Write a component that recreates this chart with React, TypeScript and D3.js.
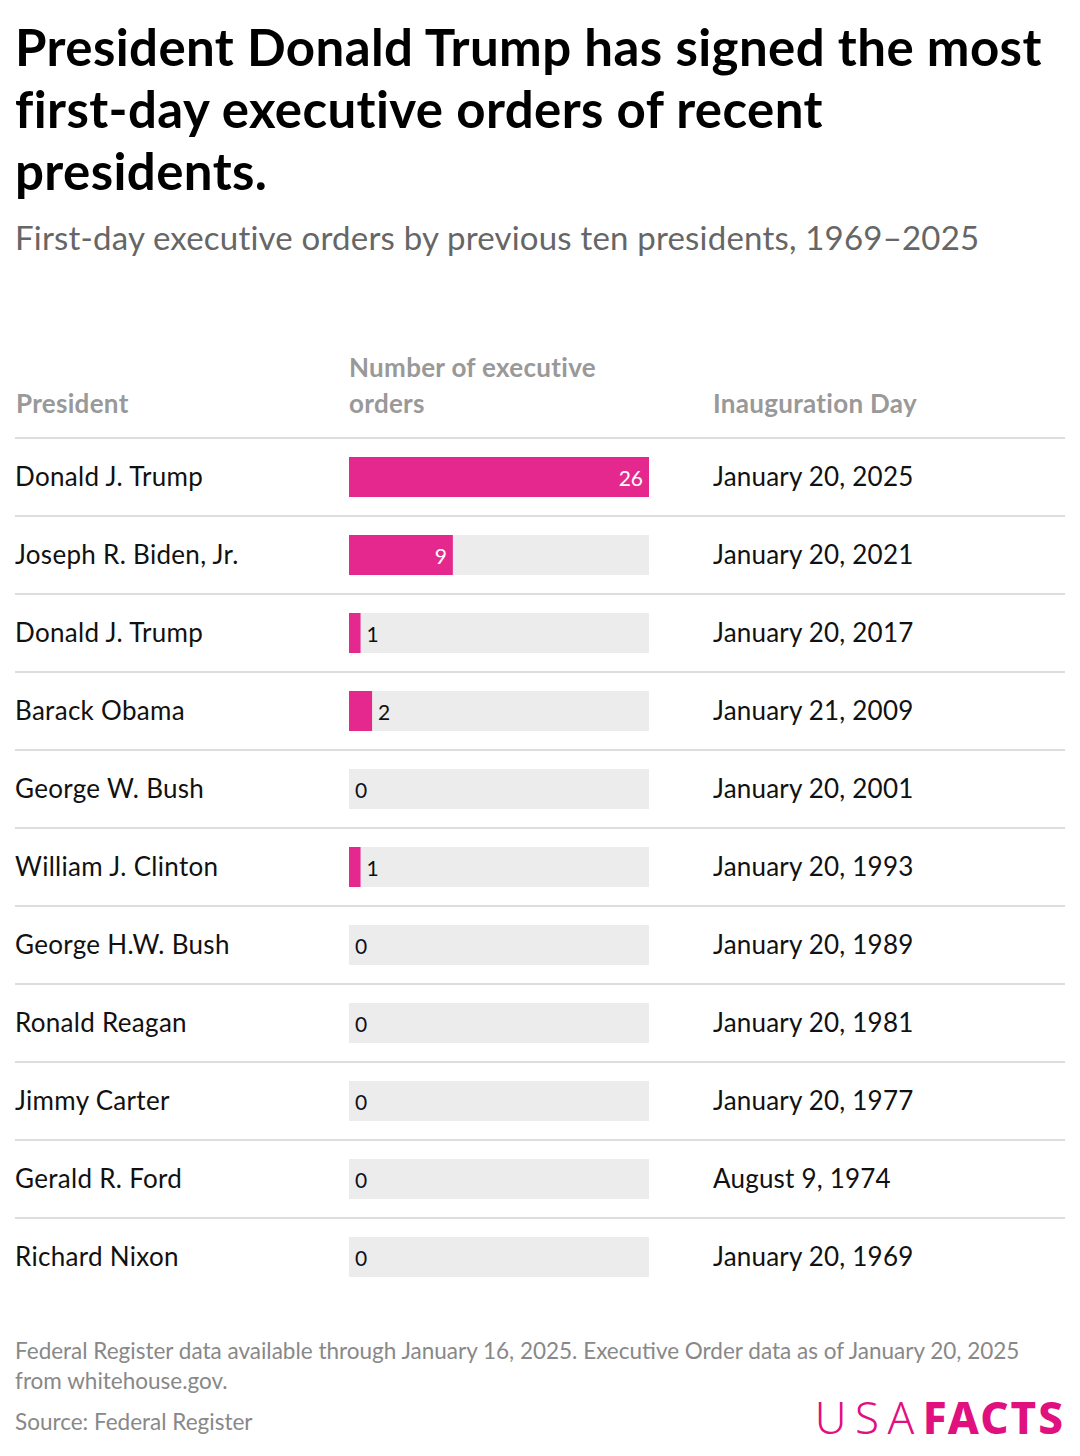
import * as d3 from 'd3';
import React from 'react';

const presidents = [
  'Donald J. Trump', 'Joseph R. Biden, Jr.', 'Donald J. Trump', 'Barack Obama',
  'George W. Bush', 'William J. Clinton', 'George H.W. Bush', 'Ronald Reagan',
  'Jimmy Carter', 'Gerald R. Ford', 'Richard Nixon',
];
const orders = [26, 9, 1, 2, 0, 1, 0, 0, 0, 0, 0];
const inaugurations = [
  'January 20, 2025', 'January 20, 2021', 'January 20, 2017', 'January 21, 2009',
  'January 20, 2001', 'January 20, 1993', 'January 20, 1989', 'January 20, 1981',
  'January 20, 1977', 'August 9, 1974', 'January 20, 1969',
];

const titleLines = [
  'President Donald Trump has signed the most',
  'first-day executive orders of recent',
  'presidents.',
];
const subtitle = 'First-day executive orders by previous ten presidents, 1969–2025';
const notes = [
  'Federal Register data available through January 16, 2025. Executive Order data as of January 20, 2025',
  'from whitehouse.gov.',
];
const source = 'Source: Federal Register';

const W = 1080;
const H = 1456;
const FONT = 'Lato, "Noto Sans", sans-serif';
const PINK = '#e5288e';

export default function App() {
  const rowTop = 438;
  const rowH = 78;
  const y = d3.scaleBand<number>()
    .domain(d3.range(presidents.length))
    .range([rowTop, rowTop + rowH * presidents.length]);
  const x = d3.scaleLinear().domain([0, d3.max(orders) || 1]).range([349, 649]);
  const barH = 40;

  return (
    <svg width={W} height={H} style={{ display: 'block', margin: -8 }} fontFamily={FONT}>
      <rect width={W} height={H} fill="#fff" />
      {titleLines.map((t, i) => (
        <text key={t} x={15} y={66 + i * 62} fontSize={51} fontWeight={700} fill="#000" letterSpacing={0.4}>{t}</text>
      ))}
      <text x={15} y={250} fontSize={33} fill="#666" letterSpacing={0.2}>{subtitle}</text>

      <g fontSize={26} fontWeight={700} fill="#999" letterSpacing={0.3}>
        <text x={349} y={377}>Number of executive</text>
        <text x={16} y={413}>President</text>
        <text x={349} y={413}>orders</text>
        <text x={713} y={413}>Inauguration Day</text>
      </g>
      <line x1={15} x2={1065} y1={rowTop} y2={rowTop} stroke="#ddd" strokeWidth={2} />

      {presidents.map((p, i) => {
        const y0 = y(i) || 0;
        const cy = y0 + y.bandwidth() / 2;
        const v = orders[i];
        const w = x(v) - x(0);
        const inside = w > 60;
        return (
          <g key={i}>
            <text x={15} y={cy + 9} fontSize={26} fill="#111" letterSpacing={0.3}>{p}</text>
            <rect x={x(0)} y={cy - barH / 2} width={x.range()[1] - x(0)} height={barH} fill="#ececec" />
            {v > 0 && <rect x={x(0)} y={cy - barH / 2} width={w} height={barH} fill={PINK} />}
            <text
              x={inside ? x(v) - 6 : x(v) + 6}
              y={cy + 9}
              fontSize={21}
              textAnchor={inside ? 'end' : 'start'}
              fill={inside ? '#fff' : '#111'}
            >{v}</text>
            <text x={713} y={cy + 9} fontSize={26} fill="#111" letterSpacing={0.2}>{inaugurations[i]}</text>
            {i < presidents.length - 1 && (
              <line x1={15} x2={1065} y1={y0 + rowH} y2={y0 + rowH} stroke="#ddd" strokeWidth={2} />
            )}
          </g>
        );
      })}

      <g fontSize={22.5} fill="#888">
        {notes.map((n, i) => (
          <text key={i} x={15} y={1359 + i * 30}>{n}</text>
        ))}
        <text x={15} y={1430}>{source}</text>
      </g>
      <text x={1065} y={1434} textAnchor="end" fontSize={44} fill="#e0107f" fontFamily='"Noto Sans", sans-serif'>
        <tspan fontWeight={300} letterSpacing={8.5}>USA</tspan>
        <tspan fontWeight={800} letterSpacing={2}>FACTS</tspan>
      </text>
    </svg>
  );
}
